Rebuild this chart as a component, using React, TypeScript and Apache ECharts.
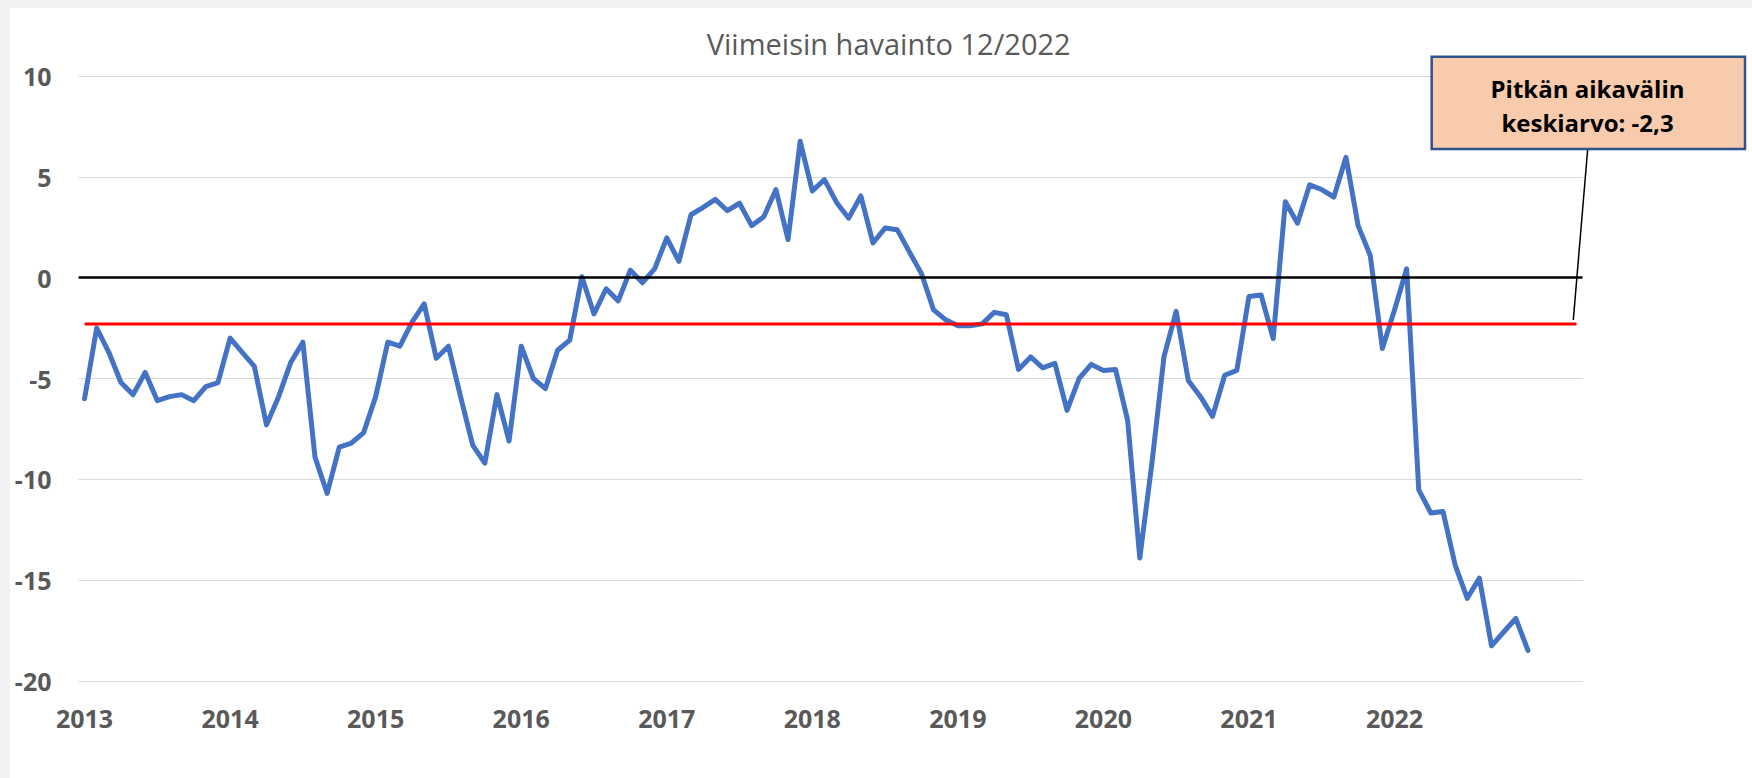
import React, { useEffect, useRef } from "react";
import * as echarts from "echarts";

// Monthly observations, 2013-2022
const years = [2013, 2014, 2015, 2016, 2017, 2018, 2019, 2020, 2021, 2022];
const v2013 = [-6.0, -2.5, -3.7, -5.2, -5.8, -4.7, -6.1, -5.9, -5.8, -6.1, -5.4, -5.2];
const v2014 = [-3.0, -3.7, -4.4, -7.3, -5.9, -4.2, -3.2, -8.9, -10.7, -8.4, -8.2, -7.7];
const v2015 = [-5.9, -3.2, -3.4, -2.2, -1.3, -4.0, -3.4, -5.9, -8.3, -9.2, -5.8, -8.1];
const v2016 = [-3.4, -5.0, -5.5, -3.6, -3.1, 0.05, -1.8, -0.55, -1.15, 0.37, -0.25, 0.44];
const v2017 = [1.97, 0.81, 3.12, 3.49, 3.88, 3.32, 3.69, 2.58, 3.02, 4.37, 1.89, 6.76];
const v2018 = [4.3, 4.86, 3.73, 2.95, 4.05, 1.72, 2.46, 2.38, 1.28, 0.2, -1.6, -2.09];
const v2019 = [-2.38, -2.38, -2.29, -1.72, -1.84, -4.55, -3.93, -4.47, -4.25, -6.58, -4.99, -4.3];
const v2020 = [-4.6, -4.55, -7.08, -13.9, -9.2, -3.9, -1.67, -5.1, -5.9, -6.88, -4.84, -4.6];
const v2021 = [-0.93, -0.86, -3.02, 3.76, 2.7, 4.6, 4.37, 4.0, 5.97, 2.58, 1.1, -3.51];
const v2022 = [-1.6, 0.44, -10.52, -11.67, -11.6, -14.25, -15.9, -14.9, -18.26, -17.57, -16.9, -18.48];
// empty categories after the last observation
const extraCategories = ["2023-01", "2023-02", "2023-03", "2023-04"];

const longTermMean = -2.3;
const yTicks = { min: -20, max: 10, interval: 5 };
const titleText = "Viimeisin havainto 12/2022";
const noteLines = ["Pitkän aikavälin", "keskiarvo: -2,3"];

const months = ["01", "02", "03", "04", "05", "06", "07", "08", "09", "10", "11", "12"];
const categories = years
  .flatMap((y) => months.map((m) => `${y}-${m}`))
  .concat(extraCategories);
const values = [
  ...v2013, ...v2014, ...v2015, ...v2016, ...v2017,
  ...v2018, ...v2019, ...v2020, ...v2021, ...v2022,
];
const meanValues = categories.map(() => longTermMean);
const nObs = values.length;

export default function App() {
  const ref = useRef<HTMLDivElement>(null);
  useEffect(() => {
    if (!ref.current) return;
    const chart = echarts.init(ref.current, null, { renderer: "svg" });
    const labelColor = "#595959";
    chart.setOption({
      animation: false,
      backgroundColor: "#F2F2F2",
      grid: { left: 78.5, right: 169.5, top: 76, bottom: 97, containLabel: false },
      xAxis: {
        type: "category",
        data: categories,
        boundaryGap: true,
        axisLine: { show: false },
        axisTick: { show: false },
        splitLine: { show: false },
        axisLabel: {
          interval: (i: number) => i % 12 === 0 && i < nObs,
          formatter: (v: string) => v.slice(0, 4),
          color: labelColor,
          fontFamily: "Open Sans",
          fontWeight: "bold",
          fontSize: 25,
          margin: 24,
        },
      },
      yAxis: {
        type: "value",
        min: yTicks.min,
        max: yTicks.max,
        interval: yTicks.interval,
        axisLine: { show: false },
        axisTick: { show: false },
        splitLine: { lineStyle: { color: "#D9D9D9", width: 1 } },
        axisLabel: {
          color: labelColor,
          fontFamily: "Open Sans",
          fontWeight: "bold",
          fontSize: 25,
          margin: 27,
        },
      },
      graphic: [
        {
          type: "rect",
          z: -10,
          silent: true,
          shape: { x: 10, y: 8, width: 1742, height: 770 },
          style: { fill: "#FFFFFF" },
        },
        {
          type: "text",
          x: 888.7,
          y: 43.6,
          style: {
            text: titleText,
            align: "center",
            verticalAlign: "middle",
            fill: labelColor,
            fontFamily: "Open Sans",
            fontSize: 29,
          },
        },
        {
          type: "line",
          z: 10,
          shape: { x1: 1587.7, y1: 149, x2: 1573.3, y2: 320 },
          style: { stroke: "#000000", lineWidth: 1.5 },
        },
        {
          type: "rect",
          z: 11,
          shape: { x: 1431.7, y: 56.7, width: 313.3, height: 92.3 },
          style: { fill: "#F8CBAD", stroke: "#2F528F", lineWidth: 2.5 },
        },
        {
          type: "text",
          z: 12,
          x: 1587.5,
          y: 105.4,
          style: {
            text: noteLines.join("\n"),
            align: "center",
            verticalAlign: "middle",
            lineHeight: 33.3,
            fill: "#000000",
            fontFamily: "Open Sans",
            fontWeight: "bold",
            fontSize: 24,
          },
        },
      ],
      series: [
        {
          type: "line",
          name: "zero",
          data: [],
          z: 1,
          markLine: {
            silent: true,
            symbol: "none",
            label: { show: false },
            lineStyle: { color: "#000000", width: 2.5, type: "solid" },
            data: [{ yAxis: 0 }],
          },
        },
        {
          type: "line",
          name: "havainto",
          data: values,
          z: 3,
          showSymbol: false,
          symbol: "none",
          lineStyle: { color: "#4472C4", width: 5, join: "round", cap: "round" },
        },
        {
          type: "line",
          name: "keskiarvo",
          data: meanValues,
          z: 4,
          showSymbol: false,
          symbol: "none",
          lineStyle: { color: "#FF0000", width: 3 },
        },
      ],
    });
    return () => chart.dispose();
  }, []);
  return (
    <div
      ref={ref}
      style={{ position: "fixed", left: 0, top: 0, width: 1752, height: 778 }}
    />
  );
}
